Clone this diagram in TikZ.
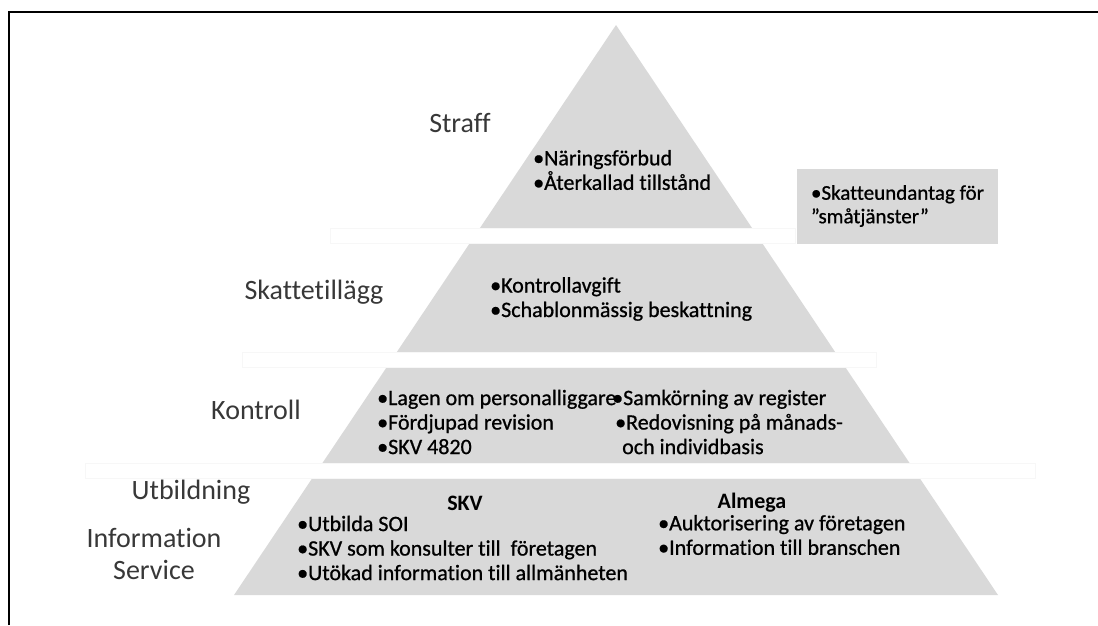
\documentclass[tikz,border=0pt]{standalone}
\usepackage{fontspec}
\setmainfont{Carlito}[Ligatures=NoCommon]
\newfontfamily\itemfont{Carlito}[Ligatures=NoCommon,FakeBold=0.8]
\usetikzlibrary{positioning}

\begin{document}
\begin{tikzpicture}[x=1pt,y=-1pt,
    layer/.style={fill=black!15},
    gap/.style={fill=white,draw=black!3},
    level/.style={font=\fontsize{28}{32}\selectfont,text=black!78,inner sep=0pt},
    items/.style={font=\itemfont\fontsize{22}{24.5}\selectfont,align=left,anchor=west,inner sep=0pt},
    head/.style={font=\fontsize{22}{24.5}\selectfont\bfseries,inner sep=0pt}]
  \useasboundingbox (0,0) rectangle (1098,625);

  % frame
  \draw[line width=2.5pt] (9,625) -- (9,12) -- (1098,12);

  % pyramid and the white bars between the levels
  \fill[layer] (616,25) -- (998,595) -- (234,595) -- cycle;
  \filldraw[gap] (330,228) rectangle (795,243);
  \filldraw[gap] (242,352) rectangle (876,367);
  \filldraw[gap] (85,463) rectangle (1035,478);

  % levels
  \node[level] (straff) at (460,123) {Straff};
  \node[level] (skatt) at (314,292) {Skattetillägg};
  \node[level] (kontroll) at (256,410) {Kontroll};
  \node[level] (utb) at (191,492) {Utbildning};
  \node[level] (info) at (154,538) {Information};
  \node[level, below=12pt of info] (service) {Service};

  % contents
  \node[items] (straffitems) at (533,170) {•Näringsförbud\\•Återkallad tillstånd};
  \node[items] (skattitems) at (490,299) {•Kontrollavgift\\•Schablonmässig beskattning};
  \node[items] (kontrollA) at (377,422) {•Lagen om personalliggare\\•Fördjupad revision\\•SKV 4820};
  \node[items] (kontrollB) at (612,422) {•Samkörning av register\\\hspace*{3pt}•Redovisning på månads-\\\hspace*{10pt}och individbasis};

  \node[head] (skv) at (465,503) {SKV};
  \node[head] (almega) at (752,503) {Almega};
  \node[items] (skvitems) at (297,548) {•Utbilda SOI\\•SKV som konsulter till~ företagen\\•Utökad information till allmänheten};
  \node[items] (almegaitems) at (658,535) {•Auktorisering av företagen\\•Information till branschen};

  % side box
  \node[fill=black!15, minimum width=201pt, minimum height=75pt, align=left,
    font=\itemfont\fontsize{21}{23.5}\selectfont]
    (undantag) at (897.5,206) {•Skatteundantag för\\”småtjänster”};
\end{tikzpicture}
\end{document}
